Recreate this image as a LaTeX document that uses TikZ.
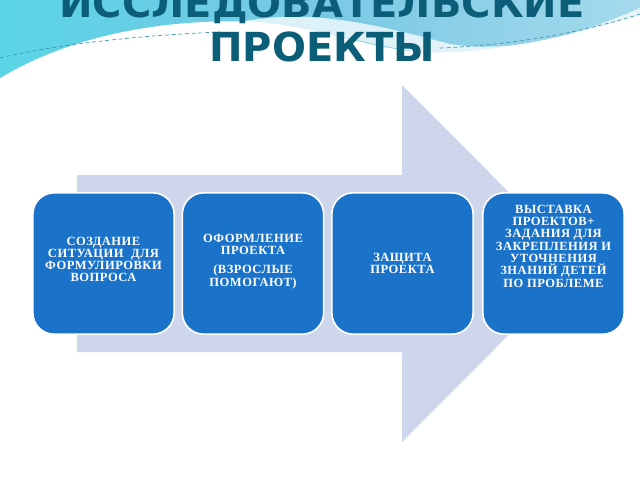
\documentclass[tikz,border=0pt]{standalone}
\usepackage{fontspec}
\setmainfont{Liberation Serif}
\newfontfamily\titlefont{DejaVu Sans}
\newfontfamily\boxfont[LetterSpace=4]{Liberation Serif}
\definecolor{arrowc}{RGB}{205,214,234}
\definecolor{boxc}{RGB}{27,114,201}
\definecolor{titlec}{RGB}{12,94,120}
\definecolor{wavel}{RGB}{90,212,230}
\definecolor{wavem}{RGB}{120,200,228}
\definecolor{waver}{RGB}{165,218,236}
\definecolor{dashc}{RGB}{60,150,175}
\begin{document}
\begin{tikzpicture}[x=0.75pt,y=-0.75pt,
  stepbox/.style={draw=white, line width=1.2pt, fill=boxc, rounded corners=16pt,
    minimum width=106pt, minimum height=106pt, inner sep=0pt},
  boxtext/.style={text=white, align=center, inner sep=0pt,
    font=\boxfont\bfseries\fontsize{9.4}{9.2}\selectfont},
  titletext/.style={text=titlec, align=center, inner sep=0pt,
    font=\titlefont\bfseries\fontsize{30}{33}\selectfont}]
\useasboundingbox (0,0) rectangle (640,480);
\clip (0,0) rectangle (640,480);
\fill[white] (0,0) rectangle (640,480);
% top wave band
\shade[left color=wavel, right color=waver, middle color=wavem]
  (0,0) -- (640,0) -- (640,15)
  .. controls (560,40) and (480,55) .. (420,52)
  .. controls (370,48) and (330,30) .. (260,22)
  .. controls (180,18) and (80,30) .. (0,78) -- cycle;
% white swoosh
\fill[white, opacity=0.75]
  (230,24) .. controls (300,8) and (360,20) .. (450,44)
  .. controls (520,55) and (590,30) .. (640,8)
  -- (640,18) .. controls (580,42) and (500,62) .. (430,54)
  .. controls (360,44) and (300,22) .. (230,24) -- cycle;
\draw[dashc, densely dashed, line width=0.5pt]
  (0,58) .. controls (40,48) and (120,36) .. (220,32);
\draw[dashc, densely dashed, line width=0.5pt]
  (440,48) .. controls (520,45) and (590,30) .. (640,14);
% title
\node[titletext, anchor=south] (title) at (322,62) {ИССЛЕДОВАТЕЛЬСКИЕ\\ПРОЕКТЫ};
% big arrow
\fill[arrowc] (77,175) -- (402,175) -- (402,85) -- (580,263.5) -- (402,442)
  -- (402,352) -- (77,352) -- cycle;
% boxes
\node[stepbox] (b1) at (103.5,263.5) {};
\node[stepbox] (b2) at (253,263.5) {};
\node[stepbox] (b3) at (402.5,263.5) {};
\node[stepbox] (b4) at (553.5,263.5) {};
% texts
\node[boxtext] (t1) at ([yshift=3pt]b1.center) {СОЗДАНИЕ\\СИТУАЦИИ\ \ ДЛЯ\\ФОРМУЛИРОВКИ\\ВОПРОСА};
\node[boxtext] (t2) at ([yshift=1.5pt]b2.center) {ОФОРМЛЕНИЕ\\ПРОЕКТА\\[5pt](ВЗРОСЛЫЕ\\ПОМОГАЮТ)};
\node[boxtext] (t3) at ([yshift=0pt]b3.center) {ЗАЩИТА\\ПРОЕКТА};
\node[boxtext] (t4) at ([yshift=13pt]b4.center) {ВЫСТАВКА\\ПРОЕКТОВ+\\ЗАДАНИЯ ДЛЯ\\ЗАКРЕПЛЕНИЯ И\\УТОЧНЕНИЯ\\ЗНАНИЙ ДЕТЕЙ\\ПО ПРОБЛЕМЕ};
\end{tikzpicture}
\end{document}
